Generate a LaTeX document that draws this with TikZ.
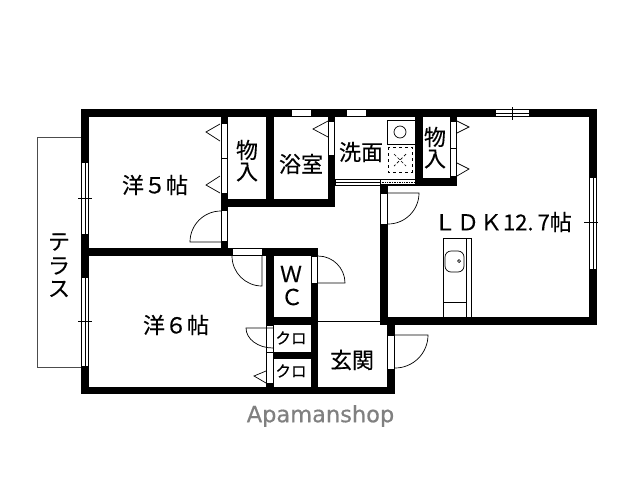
\documentclass[tikz,border=0pt]{standalone}
\usepackage{fontspec}
\setmainfont[FakeBold=0.25]{Noto Sans CJK JP}
\newfontfamily\latinfont[FakeBold=0.5]{DejaVu Sans}
\tikzset{
  wall/.style={fill=black,draw=none},
  opening/.style={fill=white,draw=black,line width=.7pt},
  thin/.style={draw=black,line width=.7pt},
  leaf/.style={draw=black,line width=.7pt},
  grayline/.style={draw=black!70,line width=.8pt},
  lbl/.style={inner sep=0pt,font=\fontsize{22}{22}\selectfont},
  small/.style={inner sep=0pt,font=\fontsize{15.5}{15.5}\selectfont},
}
\begin{document}
\begin{tikzpicture}[x=1pt,y=-1pt]
\useasboundingbox[fill=white] (0,0) rectangle (640,480);
% terrace
\draw[grayline] (81,137) -- (37,137) -- (37,367) -- (81,367);
% walls
\fill[wall] (81,109) rectangle (597,117);
\fill[wall] (81,109) rectangle (89,394);
\fill[wall] (81,387) rectangle (395,394);
\fill[wall] (81,248) rectangle (318,256);
\fill[wall] (589,109) rectangle (597,325);
\fill[wall] (380,317) rectangle (597,325);
\fill[wall] (380,185) rectangle (388,325);
\fill[wall] (221,109) rectangle (228,256);
\fill[wall] (266,109) rectangle (274,207);
\fill[wall] (221,199) rectangle (335,207);
\fill[wall] (328,109) rectangle (335,207);
\fill[wall] (415,109) rectangle (423,186);
\fill[wall] (450,109) rectangle (457,186);
\fill[wall] (415,178) rectangle (457,186);
\fill[wall] (266,248) rectangle (274,394);
\fill[wall] (311,248) rectangle (318,394);
\fill[wall] (266,317) rectangle (318,325);
\fill[wall] (266,352) rectangle (318,359);
\fill[wall] (387,317) rectangle (395,394);
% thin partition at entry
\draw[thin] (318,321) -- (380,321);
% windows left
\draw[opening] (81.5,162) rectangle (88.5,234);
\draw[thin] (85,162) -- (85,234);
\draw[thin] (78,198) -- (92,198);
\draw[opening] (81.5,277) rectangle (88.5,366);
\draw[thin] (85,277) -- (85,366);
\draw[thin] (78,321) -- (92,321);
% windows top
\draw[opening] (291,109.5) rectangle (311,116.5);
\draw[opening] (346,109.5) rectangle (366,116.5);
\draw[opening] (495,109.5) rectangle (529,116.5);
\draw[thin] (495,113) -- (529,113);
\draw[thin] (512,107) -- (512,120);
% window right
\draw[opening] (589.5,177) rectangle (596.5,269);
\draw[thin] (593,177) -- (593,269);
\draw[thin] (584,222) -- (598,222);
% doors: closets of room 5
\draw[opening] (221.5,123) rectangle (227.5,158);
\draw[opening] (221.5,158) rectangle (227.5,193);
\draw[leaf] (220,124) -- (206,132) -- (220,141);
\draw[leaf] (220,176) -- (206,185) -- (220,193);
% room 5 door
\draw[opening] (221.5,210) rectangle (227.5,241);
\draw[leaf] (221,242) -- (190,242) arc[start angle=180,end angle=270,radius=31];
% bath door
\draw[opening] (328.5,121) rectangle (334.5,155);
\draw[leaf] (328,121) -- (313,129) -- (328,137);
% washroom partition
\draw[opening] (335,179.5) rectangle (380,185.5);
\draw[thin] (335,182) -- (380,182);
\fill[wall] (380,184) rectangle (415,186);
\draw[thin] (380,179) -- (415,179);
\draw[thin,densely dotted] (380,182) -- (415,182);
% washer and pan
\draw[thin] (387,120) -- (415,120) (415,144) -- (387,144) -- (387,120);
\draw[thin] (400,132) circle[radius=6];
\draw[thin,dashed] (388,147) rectangle (412,172);
\draw[thin,densely dashed] (394,154) -- (406,166) (406,154) -- (394,166);
% closet right doors
\draw[opening] (450.5,121) rectangle (456.5,148);
\draw[opening] (450.5,148) rectangle (456.5,176);
\draw[leaf] (457,121) -- (469,127) -- (457,133);
\draw[leaf] (457,163) -- (469,169) -- (457,176);
% LDK door
\draw[opening] (380.5,193) rectangle (387.5,224);
\draw[leaf] (388,193) -- (419,193) arc[start angle=0,end angle=90,radius=31];
% kitchen
\draw[thin] (443,317) -- (443,238) -- (471,238) -- (471,317);
\draw[thin] (466,238) -- (466,317);
\draw[thin] (443,302) -- (466,302);
\draw[thin,rounded corners=6pt] (445,251) rectangle (464,272);
\draw[thin] (459,261) circle[radius=1.5];
% room 6 door
\draw[opening] (232,248.5) rectangle (262,255.5);
\draw[leaf] (262,256) -- (262,286) arc[start angle=90,end angle=180,radius=30];
% WC door
\draw[opening] (311.5,256) rectangle (317.5,283);
\draw[leaf] (318,283) -- (345,283) arc[start angle=0,end angle=-90,radius=27];
% kuro doors
\draw[opening] (266.5,325) rectangle (273.5,352);
\draw[opening] (266.5,352) rectangle (273.5,383);
\draw[leaf] (273,328) -- (246,328) arc[start angle=180,end angle=90,x radius=27,y radius=20];
\draw[leaf] (266,371) -- (254,376) -- (266,383);
% entry door
\draw[opening] (387.5,335) rectangle (394.5,369);
\draw[leaf] (395,335) -- (428,335) arc[start angle=0,end angle=90,radius=33];
% labels
\node[lbl] (r5) at (155,185) {洋５帖};
\node[lbl] (r6) at (176,325) {洋６帖};
\node[lbl] (c1a) at (247,150) {物};
\node[lbl] (c1b) at (247,172) {入};
\node[lbl] (bath) at (301,164) {浴室};
\node[lbl] (wash) at (361,152) {洗面};
\node[lbl] (c2a) at (435,137) {物};
\node[lbl] (c2b) at (435,159) {入};
\node[lbl,anchor=east] (ldk) at (572,222) {Ｌ\hspace{1pt}Ｄ\hspace{1pt}Ｋ\hspace{1pt}12.\hspace{4pt}7帖};
\node[lbl] (t1) at (59,242) {テ};
\node[lbl] (t2) at (59,266) {ラ};
\node[lbl] (t3) at (59,289) {ス};
\node[lbl] (w) at (291,274) {Ｗ};
\node[lbl] (cc) at (292,297) {Ｃ};
\node[small] (k1) at (291,338) {クロ};
\node[small] (k2) at (291,371) {クロ};
\node[lbl] (gen) at (352,360) {玄関};
\node[inner sep=0pt,text=black!50,font=\latinfont\fontsize{22.5}{22.5}\selectfont] (apa) at (320.5,416) {Apamanshop};
\end{tikzpicture}
\end{document}
